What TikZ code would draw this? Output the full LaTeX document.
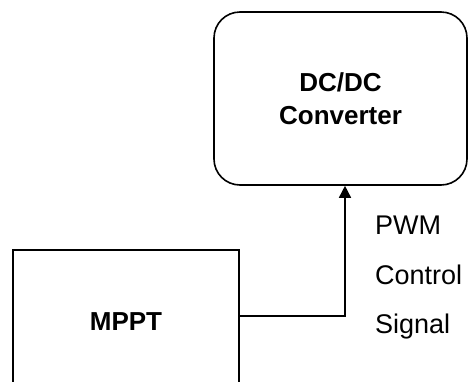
\documentclass[tikz,border=0pt]{standalone}
\usepackage{fontspec}
\setmainfont{Liberation Sans}
\usetikzlibrary{arrows.meta}
\begin{document}
\begin{tikzpicture}[x=1pt,y=-1pt,
  block/.style={draw,line width=1.6pt,inner sep=0pt,align=center,
    font=\fontsize{26}{33}\selectfont\bfseries},
  lbl/.style={anchor=base west,inner sep=0pt,font=\fontsize{27}{30}\selectfont},
  link/.style={line width=1.6pt,-{Triangle[length=12pt,width=12pt]}}]
  \useasboundingbox (0,0) rectangle (469,381);
  % converter block with rounded corners
  \node[block,rounded corners=26pt,minimum width=253pt,minimum height=173pt]
    (conv) at (340.5,98.5) {DC/DC\\Converter};
  % tracker block, running past the lower edge
  \node[block,minimum width=226pt,minimum height=144pt] (mppt) at (126,322) {MPPT};
  % control signal
  \draw[link] ([yshift=6pt]mppt.east) -| ([xshift=4.5pt]conv.south);
  \node[lbl] (pwm) at (375,234) {PWM};
  \node[lbl] (ctrl) at (375,284) {Control};
  \node[lbl] (sig) at (375,333) {Signal};
\end{tikzpicture}
\end{document}
